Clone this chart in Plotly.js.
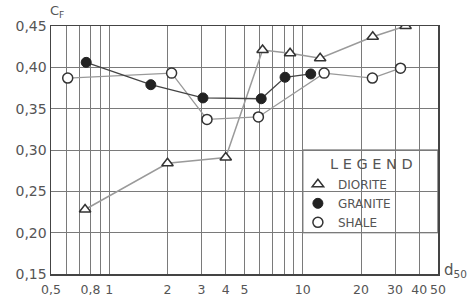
<!DOCTYPE html>
<html>
<head>
<meta charset="utf-8">
<script src="https://cdn.plot.ly/plotly-3.0.1.min.js"></script>
<style>html,body{margin:0;padding:0;background:#fff;}#chart{width:469px;height:303px;}</style>
</head>
<body>
<div id="chart"></div>
<script>
// ---- data ----
const dioriteX = [0.75, 2.0, 4.0, 6.2, 8.6, 12.3, 23, 34];
const dioriteY = [0.228, 0.284, 0.291, 0.421, 0.417, 0.411, 0.437, 0.450];

const graniteX = [0.76, 1.64, 3.05, 6.1, 8.1, 11.0];
const graniteY = [0.406, 0.379, 0.363, 0.362, 0.388, 0.392];

const shaleX = [0.61, 2.1, 3.2, 5.9, 12.9, 22.9, 32];
const shaleY = [0.387, 0.393, 0.337, 0.340, 0.393, 0.387, 0.399];

const seriesNames = ["DIORITE", "GRANITE", "SHALE"];

const xTickVals = [0.5, 0.8, 1, 2, 3, 4, 5, 10, 20, 30, 40, 50];
const xTickText = ["0,5", "0,8", "1", "2", "3", "4", "5", "10", "20", "30", "40", "50"];
const xMinorVals = [0.6, 0.7, 0.9, 6, 7, 8, 9];
const yTickVals = [0.15, 0.20, 0.25, 0.30, 0.35, 0.40, 0.45];
const yTickText = ["0,15", "0,20", "0,25", "0,30", "0,35", "0,40", "0,45"];

const xTitle = "d<sub>50</sub>";
const yTitle = "C<sub>F</sub>";
const legendTitle = "L E G E N D";

// ---- styling ----
const ink = "#333";
const textCol = "#555";
const fontFam = "DejaVu Sans, sans-serif";

const markDiorite = {symbol: "triangle-up", size: 10, color: "#fff", line: {color: ink, width: 1.5}};
const markGranite = {symbol: "circle", size: 10, color: "#222", line: {color: "#222", width: 1}};
const markShale = {symbol: "circle", size: 10, color: "#fff", line: {color: ink, width: 1.5}};

const traces = [
  {x: dioriteX, y: dioriteY, mode: "lines+markers", showlegend: false, hoverinfo: "skip",
   line: {color: "#9a9a9a", width: 1.5}, marker: markDiorite},
  {x: shaleX, y: shaleY, mode: "lines+markers", showlegend: false, hoverinfo: "skip",
   line: {color: "#999", width: 1.3}, marker: markShale},
  {x: graniteX, y: graniteY, mode: "lines+markers", showlegend: false, hoverinfo: "skip",
   line: {color: "#444", width: 1.3}, marker: markGranite},
  // legend entries (markers only)
  {x: [null], y: [null], mode: "markers", name: seriesNames[0], marker: markDiorite},
  {x: [null], y: [null], mode: "markers", name: seriesNames[1], marker: markGranite},
  {x: [null], y: [null], mode: "markers", name: seriesNames[2], marker: markShale}
];

const axisCommon = {
  showgrid: true, gridcolor: "#7a7a7a", gridwidth: 1,
  showline: true, mirror: true, linecolor: "#444", linewidth: 1.5,
  zeroline: false, ticks: "",
  tickfont: {family: fontFam, size: 14, color: textCol}
};

const layout = {
  width: 469, height: 303,
  margin: {l: 51, r: 31, t: 26, b: 29, pad: 0, autoexpand: false},
  paper_bgcolor: "#fff", plot_bgcolor: "#fff",
  font: {family: fontFam, color: textCol},
  xaxis: Object.assign({}, axisCommon, {
    type: "log", range: [Math.log10(0.5), Math.log10(50)],
    tickmode: "array", tickvals: xTickVals, ticktext: xTickText,
    tickangle: 0, ticklabelstandoff: 3,
    tickfont: {family: fontFam, size: 12.5, color: textCol},
    minor: {tickmode: "array", tickvals: xMinorVals, showgrid: true, gridcolor: "#7a7a7a", gridwidth: 1, ticks: ""}
  }),
  yaxis: Object.assign({}, axisCommon, {
    range: [0.15, 0.45],
    tickmode: "array", tickvals: yTickVals, ticktext: yTickText
  }),
  showlegend: true,
  legend: {
    x: 0.638, xanchor: "left", y: 0.42, yanchor: "top",
    bgcolor: "rgba(0,0,0,0)", borderwidth: 0,
    font: {family: fontFam, size: 12, color: textCol},
    tracegroupgap: 0
  },
  shapes: [{
    type: "rect", xref: "paper", yref: "paper",
    x0: (Math.log10(10) - Math.log10(0.5)) / 2, x1: 1,
    y0: (0.20 - 0.15) / 0.30, y1: (0.30 - 0.15) / 0.30,
    fillcolor: "#fff", line: {color: "#555", width: 1.2}, layer: "between"
  }],
  annotations: [
    {text: yTitle, xref: "paper", yref: "paper", x: 0.016, y: 1.06, xanchor: "center", yanchor: "middle",
     showarrow: false, font: {family: fontFam, size: 13, color: textCol}},
    {text: xTitle, xref: "paper", yref: "paper", x: 1.045, y: 0.015, xanchor: "center", yanchor: "middle",
     showarrow: false, font: {family: fontFam, size: 15, color: textCol}},
    {text: legendTitle, xref: "paper", yref: "paper", x: 0.829, y: 0.444, xanchor: "center", yanchor: "middle",
     showarrow: false, font: {family: fontFam, size: 14.5, color: textCol}}
  ]
};

Plotly.newPlot("chart", traces, layout, {staticPlot: true, displayModeBar: false});
</script>
</body>
</html>
